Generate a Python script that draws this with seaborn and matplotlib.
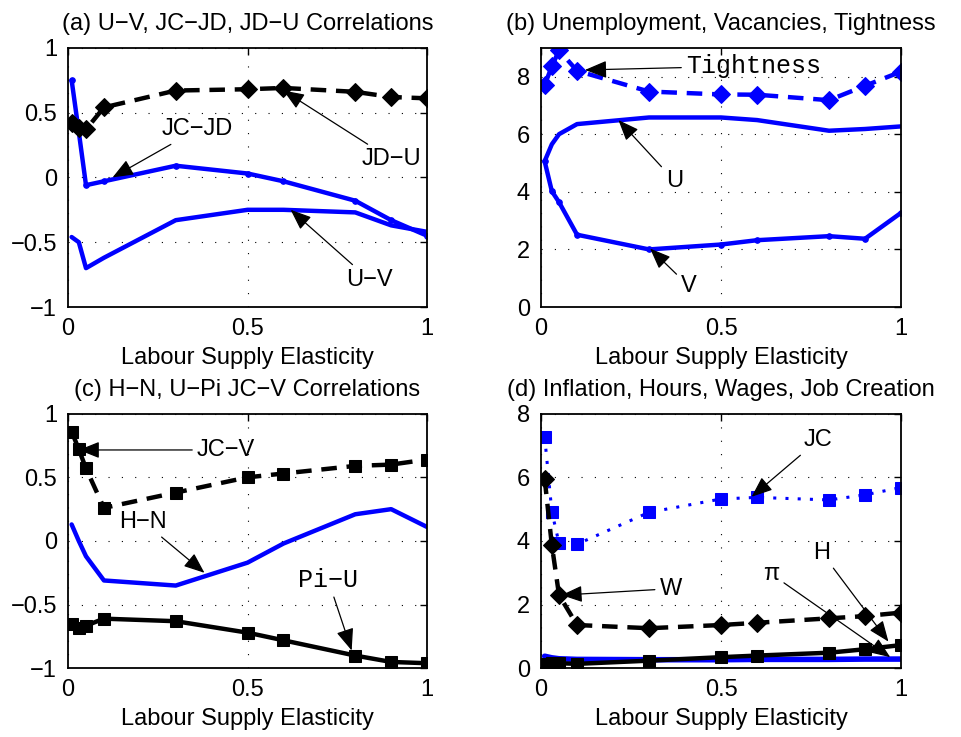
import matplotlib
matplotlib.use("Agg")
import matplotlib.pyplot as plt
import seaborn as sns

# labour supply elasticity grid (shared by every panel)
elasticity = [0.01, 0.03, 0.05, 0.1, 0.3, 0.5, 0.6, 0.8, 0.9, 1.0]

# (a) correlations
corr_uv = [-0.46, -0.50, -0.70, -0.62, -0.33, -0.25, -0.25, -0.27, -0.37, -0.42]
corr_jc_jd = [0.75, 0.35, -0.06, -0.03, 0.09, 0.03, -0.03, -0.18, -0.33, -0.45]
corr_jd_u = [0.42, 0.38, 0.37, 0.54, 0.67, 0.68, 0.69, 0.66, 0.62, 0.61]

# (b) unemployment, vacancies, tightness
unemp = [5.06, 5.65, 6.00, 6.35, 6.58, 6.58, 6.49, 6.12, 6.18, 6.27]
vacancies = [5.06, 4.02, 3.64, 2.51, 2.00, 2.17, 2.32, 2.46, 2.37, 3.27]
tightness = [7.71, 8.35, 8.91, 8.20, 7.48, 7.38, 7.37, 7.18, 7.68, 8.17]

# (c) correlations
corr_jc_v = [0.86, 0.72, 0.57, 0.26, 0.38, 0.50, 0.53, 0.59, 0.60, 0.64]
corr_h_n = [0.13, 0.00, -0.12, -0.31, -0.35, -0.17, -0.02, 0.21, 0.25, 0.11]
corr_pi_u = [-0.65, -0.68, -0.665, -0.61, -0.63, -0.72, -0.78, -0.90, -0.95, -0.96]

# (d) inflation, hours, wages, job creation
job_creation = [7.28, 4.92, 3.93, 3.90, 4.90, 5.32, 5.37, 5.29, 5.45, 5.68]
wages = [5.96, 3.87, 2.30, 1.36, 1.26, 1.36, 1.43, 1.57, 1.64, 1.75]
hours = [0.13, 0.16, 0.16, 0.14, 0.24, 0.35, 0.40, 0.49, 0.60, 0.73]
inflation = [0.38, 0.33, 0.30, 0.28, 0.27, 0.27, 0.28, 0.28, 0.29, 0.29]

BLUE = '#0000ff'
FS = 17

sns.set_style('white')
plt.rcParams['font.family'] = ['Liberation Sans', 'DejaVu Sans']
plt.rcParams['axes.unicode_minus'] = True
# matlab look: everything in plain black
for key in ['text.color', 'axes.labelcolor', 'xtick.color', 'ytick.color']:
    plt.rcParams[key] = 'black'

fig = plt.figure(figsize=(9.61, 7.37), dpi=100)
ax_a = fig.add_axes([0.0708, 0.5834, 0.3736, 0.3518])
ax_b = fig.add_axes([0.5630, 0.5834, 0.3746, 0.3518])
ax_c = fig.add_axes([0.0708, 0.0932, 0.3736, 0.3455])
ax_d = fig.add_axes([0.5630, 0.0932, 0.3746, 0.3455])


def draw(ax, y, color, lw=3.2, ls='-', marker=None, ms=0, z=2):
    sns.lineplot(x=elasticity, y=y, ax=ax, color=color, linewidth=lw,
                 linestyle=ls, marker=marker, markersize=ms,
                 markeredgecolor=color, markerfacecolor=color,
                 estimator=None, sort=False, zorder=z)


def style(ax, title, ylim, yticks):
    ax.set_xlim(0, 1)
    ax.set_ylim(*ylim)
    ax.set_xticks([0, 0.5, 1])
    ax.set_xticklabels(['0', '0.5', '1'])
    ax.set_yticks(yticks)
    ax.set_yticklabels([f'{t:g}'.replace('-', '\u2212') for t in yticks])
    ax.grid(True, color='k', linestyle=(0, (1, 11)), linewidth=0.8)
    ax.tick_params(direction='in', length=5, width=1, labelsize=FS,
                   top=True, right=True, pad=8, colors='black')
    for sp in ax.spines.values():
        sp.set_linewidth(1.3)
        sp.set_color('k')
    ax.set_title(title, fontsize=FS, pad=13, color='black')
    ax.set_xlabel('Labour Supply Elasticity', fontsize=FS, labelpad=5, color='black')
    ax.set_ylabel('')


def tag(ax, text, tip, spot, mono=False):
    fam = ['Liberation Mono', 'DejaVu Sans Mono'] if mono else ['Liberation Sans', 'DejaVu Sans']
    ax.annotate(text, xy=tip, xytext=spot, ha='center', va='center',
                fontsize=FS + 1 if mono else FS, family=fam, zorder=5,
                color='black',
                arrowprops=dict(arrowstyle='-|>,head_length=0.75,head_width=0.3',
                                color='k', lw=0.9, shrinkA=1, shrinkB=0))


dash = (0, (3.5, 2.2))

# (a)
draw(ax_a, corr_uv, BLUE)
draw(ax_a, corr_jc_jd, BLUE, marker='o', ms=4)
draw(ax_a, corr_jd_u, 'k', lw=3.2, ls=dash, marker='D', ms=9)
style(ax_a, '(a) U\u2212V, JC\u2212JD, JD\u2212U Correlations', (-1, 1), [-1, -0.5, 0, 0.5, 1])
tag(ax_a, 'JC\u2212JD', (0.124, 0.0), (0.36, 0.37))
tag(ax_a, 'JD\u2212U', (0.6, 0.67), (0.9, 0.14))
tag(ax_a, 'U\u2212V', (0.62, -0.25), (0.84, -0.79))

# (b)
draw(ax_b, unemp, BLUE)
draw(ax_b, vacancies, BLUE, marker='o', ms=4)
draw(ax_b, tightness, BLUE, ls=dash, marker='D', ms=9)
style(ax_b, '(b) Unemployment, Vacancies, Tightness', (0, 9), [0, 2, 4, 6, 8])
tag(ax_b, 'Tightness', (0.122, 8.23), (0.59, 8.37), mono=True)
tag(ax_b, 'U', (0.215, 6.49), (0.37, 4.39))
tag(ax_b, 'V', (0.303, 2.03), (0.41, 0.73))

# (c)
draw(ax_c, corr_jc_v, 'k', ls=dash, marker='s', ms=8)
draw(ax_c, corr_h_n, BLUE)
draw(ax_c, corr_pi_u, 'k', marker='s', ms=8)
style(ax_c, '(c) H\u2212N, U\u2212Pi JC\u2212V Correlations', (-1, 1), [-1, -0.5, 0, 0.5, 1])
tag(ax_c, 'JC\u2212V', (0.03, 0.715), (0.44, 0.715))
tag(ax_c, 'H\u2212N', (0.38, -0.25), (0.21, 0.15))
tag(ax_c, 'Pi\u2212U', (0.79, -0.86), (0.725, -0.31), mono=True)

# (d)
draw(ax_d, job_creation, BLUE, lw=2.2, ls=(0, (1, 3)), marker='s', ms=8)
draw(ax_d, wages, 'k', ls=dash, marker='D', ms=9)
draw(ax_d, inflation, BLUE, lw=4)
draw(ax_d, hours, 'k', marker='s', ms=8, z=3)
style(ax_d, '(d) Inflation, Hours, Wages, Job Creation', (0, 8), [0, 2, 4, 6, 8])
tag(ax_d, 'JC', (0.585, 5.39), (0.77, 7.17))
tag(ax_d, 'W', (0.057, 2.3), (0.36, 2.5))
tag(ax_d, 'H', (0.965, 0.84), (0.78, 3.63))
tag(ax_d, '\u03c0', (0.97, 0.35), (0.64, 2.96))

fig.savefig('out.png', dpi=100)
